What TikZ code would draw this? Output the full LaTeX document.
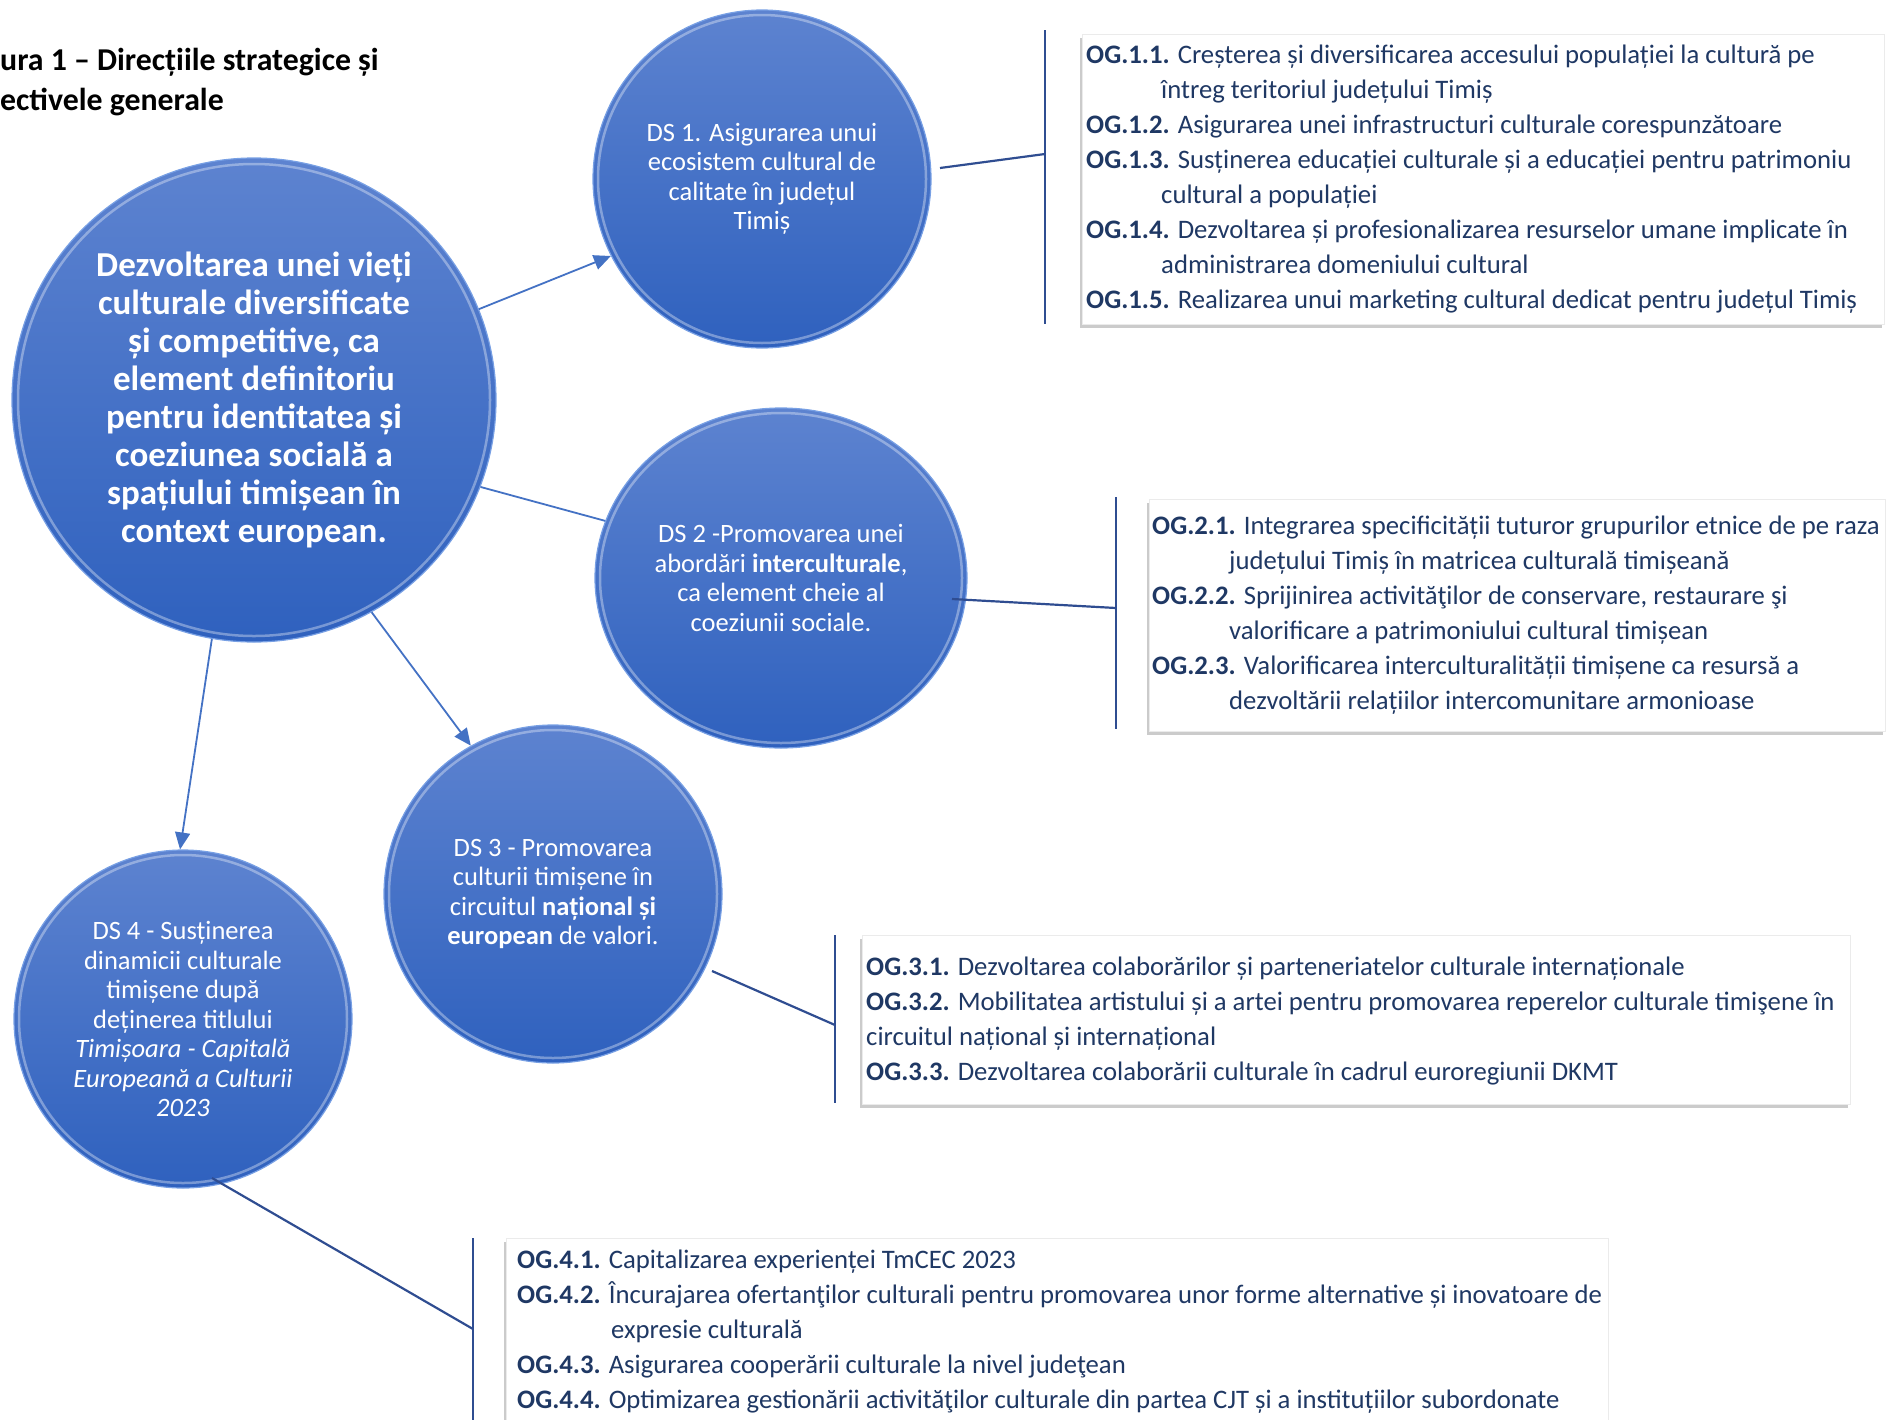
\documentclass[tikz,border=0pt]{standalone}
\usepackage{fontspec}
\setmainfont{Carlito}
\usetikzlibrary{arrows.meta,shadows,shapes.geometric}
\definecolor{cTop}{RGB}{93,131,208}
\definecolor{cBot}{RGB}{47,97,190}
\definecolor{cRim}{RGB}{120,160,228}
\definecolor{arrowblue}{RGB}{68,114,196}
\definecolor{linkblue}{RGB}{47,77,145}
\definecolor{navy}{RGB}{31,56,100}
\begin{document}
\begin{tikzpicture}[x=1pt,y=-1pt,
  ball/.style={inner sep=0pt, top color=cTop, bottom color=cBot, draw=cRim, line width=1.2pt, text=white, align=center},
  gloss/.style={draw=white, opacity=.35, line width=2.5pt},
  ogbox/.style={draw=black!8, fill=white, inner sep=0pt, anchor=north west, drop shadow={shadow xshift=-2pt, shadow yshift=-4pt, opacity=.45, fill=black!45}},
  ogtext/.style={inner sep=0pt, anchor=north west, align=left, text=navy, font=\fontsize{26.7}{35.1}\selectfont},
  arr/.style={draw=arrowblue, line width=1.8pt, -{Triangle[length=17pt,width=15pt]}},
  arrline/.style={draw=arrowblue, line width=1.8pt},
  link/.style={draw=linkblue, line width=2.2pt},
  titletext/.style={inner sep=0pt, anchor=base west, font=\fontsize{31.8}{40}\selectfont\bfseries, text=black},
  dstext/.style={font=\fontsize{26.5}{29.5}\selectfont}
]
\useasboundingbox (0,0) rectangle (1900,1419);

% title
\node[titletext] (title1) at (0,70) {ura 1 – Direcțiile strategice și};
\node[titletext] (title2) at (0,110) {ectivele generale};

% objective boxes
\node[ogbox, minimum width=802pt, minimum height=290pt] (box1) at (1082,34) {};
\node[ogbox, minimum width=736pt, minimum height=232pt] (box2) at (1149,499) {};
\node[ogbox, minimum width=988pt, minimum height=169pt] (box3) at (862,935) {};
\node[ogbox, minimum width=1102pt, minimum height=200pt] (box4) at (506,1238) {};

\node[ogtext] (t1) at (1086,38.4) {\strut\textbf{OG.1.1.} Creșterea și diversificarea accesului populației la cultură pe\\
\hspace*{75pt}întreg teritoriul județului Timiș\\
\textbf{OG.1.2.} Asigurarea unei infrastructuri culturale corespunzătoare\\
\textbf{OG.1.3.} Susținerea educației culturale și a educației pentru patrimoniu\\
\hspace*{75pt}cultural a populației\\
\textbf{OG.1.4.} Dezvoltarea și profesionalizarea resurselor umane implicate în\\
\hspace*{75pt}administrarea domeniului cultural\\
\textbf{OG.1.5.} Realizarea unui marketing cultural dedicat pentru județul Timiș};

\node[ogtext] (t2) at (1152,509.4) {\strut\textbf{OG.2.1.} Integrarea specificității tuturor grupurilor etnice de pe raza\\
\hspace*{77pt}județului Timiș în matricea culturală timișeană\\
\textbf{OG.2.2.} Sprijinirea activităţilor de conservare, restaurare şi\\
\hspace*{77pt}valorificare a patrimoniului cultural timișean\\
\textbf{OG.2.3.} Valorificarea interculturalității timișene ca resursă a\\
\hspace*{77pt}dezvoltării relațiilor intercomunitare armonioase};

\node[ogtext] (t3) at (866,950.4) {\strut\textbf{OG.3.1.} Dezvoltarea colaborărilor și parteneriatelor culturale internaționale\\
\textbf{OG.3.2.} Mobilitatea artistului și a artei pentru promovarea reperelor culturale timişene în\\
circuitul național și internațional\\
\textbf{OG.3.3.} Dezvoltarea colaborării culturale în cadrul euroregiunii DKMT};

\node[ogtext] (t4) at (517,1243.7) {\strut\textbf{OG.4.1.} Capitalizarea experienței TmCEC 2023\\
\textbf{OG.4.2.} Încurajarea ofertanţilor culturali pentru promovarea unor forme alternative și inovatoare de\\
\hspace*{94pt}expresie culturală\\
\textbf{OG.4.3.} Asigurarea cooperării culturale la nivel judeţean\\
\textbf{OG.4.4.} Optimizarea gestionării activităţilor culturale din partea CJT și a instituțiilor subordonate};

% circles
\node[ball, circle, minimum size=484pt, font=\fontsize{35}{38}\selectfont\bfseries] (main) at (254,400)
 {Dezvoltarea unei vieți\\culturale diversificate\\și competitive, ca\\element definitoriu\\pentru identitatea și\\coeziunea socială a\\spațiului timișean în\\context european.};
\node[ball, circle, minimum size=338pt, dstext] (ds1) at (762,179)
 {DS 1. Asigurarea unui\\ecosistem cultural de\\calitate în județul\\Timiș};
\node[ball, ellipse, minimum width=372pt, minimum height=340pt, dstext] (ds2) at (781,578)
 {DS 2 -Promovarea unei\\abordări \textbf{interculturale},\\ca element cheie al\\coeziunii sociale.};
\node[ball, circle, minimum size=338pt, dstext] (ds3) at (553,894)
 {DS 3 - Promovarea\\culturii timișene în\\circuitul \textbf{național și}\\\textbf{european} de valori.};
\node[ball, circle, minimum size=338pt, dstext] (ds4) at (183,1019)
 {DS 4 - Susținerea\\dinamicii culturale\\timișene după\\deținerea titlului\\\textit{Timișoara - Capitală}\\\textit{Europeană a Culturii}\\\textit{2023}};

\draw[gloss] (main.center) circle [radius=236pt];
\draw[gloss] (ds1.center) circle [radius=164pt];
\draw[gloss] (ds2.center) ellipse [x radius=181pt, y radius=165pt];
\draw[gloss] (ds3.center) circle [radius=164pt];
\draw[gloss] (ds4.center) circle [radius=164pt];

% arrows from the central goal
\draw[arr] (main.22.6) -- (ds1.207);
\draw[arrline] (main.-21.5) -- (ds2.162.8);
\draw[arr] (main.-61.6) -- (ds3.119.3);
\draw[arr] (main.-100.9) -- (ds4.91.7);

% brackets and links
\coordinate (b1t) at (1045,30);  \coordinate (b1b) at (1045,324);
\coordinate (b2t) at (1116,497); \coordinate (b2b) at (1116,729);
\coordinate (b3t) at (835,935);  \coordinate (b3b) at (835,1103);
\coordinate (b4t) at (473,1238); \coordinate (b4b) at (473,1425);
\coordinate (s1) at (940,168);  \coordinate (e1) at (1045,154);
\coordinate (s2) at (952,599);  \coordinate (e2) at (1116,608);
\coordinate (s3) at (712,971);  \coordinate (e3) at (835,1025);
\coordinate (s4) at (212,1178); \coordinate (e4) at (473,1329);
\draw[link] (b1t) -- (b1b);
\draw[link] (b2t) -- (b2b);
\draw[link] (b3t) -- (b3b);
\draw[link] (b4t) -- (b4b);
\draw[link] (s1) -- (e1);
\draw[link] (s2) -- (e2);
\draw[link] (s3) -- (e3);
\draw[link] (s4) -- (e4);
\end{tikzpicture}
\end{document}
